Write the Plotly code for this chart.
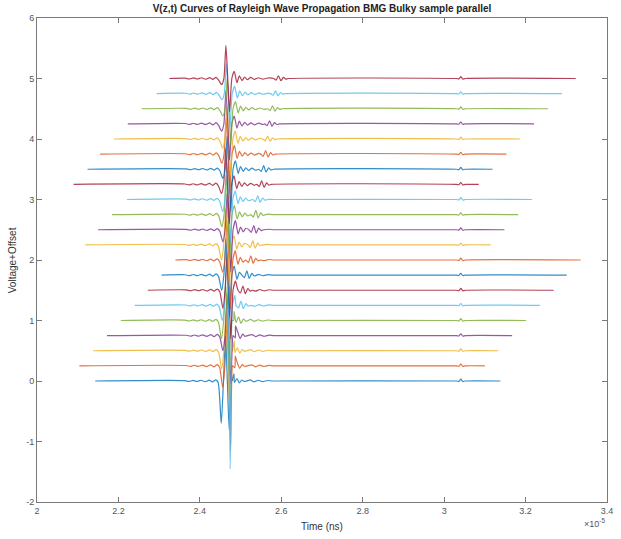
import plotly.graph_objects as go

TIME_UNIT = 1e-5

# one trace per offset (bottom to top)
OFFSETS = [0.0, 0.25, 0.5, 0.75, 1.0, 1.25, 1.5, 1.75, 2.0, 2.25, 2.5,
           2.75, 3.0, 3.25, 3.5, 3.75, 4.0, 4.25, 4.5, 4.75, 5.0]
START_T = [2.143, 2.104, 2.138, 2.172, 2.206, 2.240, 2.272, 2.306, 2.340, 2.119, 2.150,
           2.184, 2.221, 2.090, 2.124, 2.155, 2.189, 2.223, 2.257, 2.294, 2.325]
END_T = [3.138, 3.100, 3.133, 3.167, 3.201, 3.235, 3.269, 3.301, 3.335, 3.114, 3.148,
         3.182, 3.216, 3.085, 3.119, 3.153, 3.187, 3.221, 3.255, 3.289, 3.323]
PULSE_T = [2.4630, 2.4665, 2.4640, 2.4670, 2.4635, 2.4655, 2.4670, 2.4640, 2.4665, 2.4635, 2.4670,
           2.4645, 2.4665, 2.4635, 2.4670, 2.4645, 2.4665, 2.4640, 2.4670, 2.4650, 2.4640]
PRE_DIP = [-0.70, -0.35, -0.30, -0.25, -0.30, -0.25, -0.30, -0.25, -0.20, -0.25, -0.20,
           -0.20, -0.20, -0.15, -0.15, -0.15, -0.15, -0.12, -0.12, -0.10, -0.10]
PEAK = [0.75, 0.70, 0.65, 0.70, 0.60, 0.70, 0.65, 0.60, 0.65, 0.60, 0.60,
        0.65, 0.60, 0.60, 0.55, 0.60, 0.55, 0.55, 0.50, 0.50, 0.55]
TROUGH = [-0.80, -1.40, -0.90, -0.80, -0.90, -2.70, -0.80, -0.70, -0.80, -0.70, -0.70,
          -0.70, -0.70, -0.65, -0.70, -0.65, -0.60, -0.60, -0.60, -0.55, -0.55]
REBOUND = [0.12, 0.16, 0.16, 0.16, 0.15, 0.16, 0.15, 0.15, 0.15, 0.15, 0.15,
           0.15, 0.14, 0.14, 0.14, 0.14, 0.13, 0.13, 0.12, 0.12, 0.12]
ECHO_T = [2.4950, 2.4960, 2.4960, 2.4970, 2.4990, 2.5049, 2.5097, 2.5194, 2.5291, 2.5340, 2.5364,
          2.5413, 2.5461, 2.5558, 2.5607, 2.5655, 2.5704, 2.5752, 2.5825, 2.5898, 2.5971]
ECHO_AMP = [0.04, 0.05, 0.05, 0.06, 0.06, 0.07, 0.07, 0.07, 0.07, 0.07, 0.07,
            0.07, 0.06, 0.06, 0.06, 0.06, 0.05, 0.05, 0.05, 0.045, 0.045]
BLIP_T = 3.041
BLIP_AMP = [0.03, 0.03, 0.03, 0.03, 0.03, 0.03, 0.03, 0.03, 0.03, 0.03, 0.03,
            0.03, 0.03, 0.03, 0.03, 0.03, 0.03, 0.03, 0.03, 0.03, 0.03]

# shared shapes (time relative to the feature, in 1e-5 s)
PRE_RIPPLE_TAU = [-0.100, -0.090, -0.080, -0.070, -0.060, -0.050, -0.040, -0.032, -0.024, -0.018]
PRE_RIPPLE_VAL = [0.006, -0.008, 0.010, -0.008, 0.012, -0.012, 0.015, -0.015, 0.020, -0.025]
RING_TAU = [0.0270, 0.0330, 0.0395, 0.0460, 0.0530, 0.0610, 0.0700, 0.0800, 0.0910, 0.1030, 0.1160]
RING_VAL = [-0.070, 0.045, -0.035, 0.025, -0.020, 0.018, -0.015, 0.012, -0.010, 0.008, 0.0]
ECHO_TAU = [-0.016, -0.010, -0.004, 0.002, 0.008, 0.014, 0.020]
ECHO_SHAPE = [0.0, -0.6, 1.0, -0.8, 0.4, -0.2, 0.0]
BLIP_TAU = [-0.011, -0.005, 0.000, 0.005, 0.011]
BLIP_SHAPE = [0.0, -0.2, 1.0, -0.3, 0.0]

COLORS = ['#0072BD', '#D95319', '#EDB120', '#7E2F8E', '#77AC30', '#4DBEEE', '#A2142F']

fig = go.Figure()
for i, off in enumerate(OFFSETS):
    tc = PULSE_T[i]
    te = ECHO_T[i]
    e_lo, e_hi = te + ECHO_TAU[0], te + ECHO_TAU[-1]
    pts = [(START_T[i], 0.0)]
    pts += [(tc + a, v) for a, v in zip(PRE_RIPPLE_TAU, PRE_RIPPLE_VAL)]
    pts += [(tc - 0.0105, PRE_DIP[i]), (tc - 0.0050, 0.0), (tc, PEAK[i]),
            (tc + 0.0045, 0.0), (tc + 0.0090, TROUGH[i]), (tc + 0.0145, 0.0),
            (tc + 0.0205, REBOUND[i])]
    pts += [(tc + a, v) for a, v in zip(RING_TAU, RING_VAL) if not (e_lo - 0.004 <= tc + a <= e_hi + 0.004)]
    pts += [(te + a, ECHO_AMP[i] * s) for a, s in zip(ECHO_TAU, ECHO_SHAPE)]
    pts += [(BLIP_T + a, BLIP_AMP[i] * s) for a, s in zip(BLIP_TAU, BLIP_SHAPE)]
    pts.append((END_T[i], 0.0))
    pts.sort(key=lambda p: p[0])
    xs = [p[0] * TIME_UNIT for p in pts]
    ys = [off + p[1] for p in pts]
    fig.add_trace(go.Scatter(x=xs, y=ys, mode='lines', opacity=0.8,
                             line=dict(color=COLORS[i % 7], width=1.2, shape='spline', smoothing=0.6),
                             showlegend=False, hoverinfo='skip'))

X_TICKS = [2.0, 2.2, 2.4, 2.6, 2.8, 3.0, 3.2, 3.4]
X_LABELS = ['2', '2.2', '2.4', '2.6', '2.8', '3', '3.2', '3.4']
Y_TICKS = [-2, -1, 0, 1, 2, 3, 4, 5, 6]
Y_LABELS = ['-2', '-1', '0', '1', '2', '3', '4', '5', '6']

axis_common = dict(showline=True, linecolor='#7a7a7a', linewidth=1, mirror='ticks',
                   ticks='inside', ticklen=5, tickcolor='#7a7a7a', showgrid=False,
                   zeroline=False, tickfont=dict(family='Liberation Sans, Arial', size=9, color='#555555'))

fig.update_layout(
    width=621, height=539,
    margin=dict(l=37, r=8, t=18, b=37),
    paper_bgcolor='white', plot_bgcolor='white',
    title=dict(text='<b>V(z,t) Curves of Rayleigh Wave Propagation BMG Bulky sample parallel</b>',
               x=0.5, xref='paper', y=1 - 8 / 539, yref='container', yanchor='middle',
               font=dict(family='Liberation Sans, Arial', size=10, color='#222222')),
    xaxis=dict(range=[2.0 * TIME_UNIT, 3.4 * TIME_UNIT],
               tickvals=[v * TIME_UNIT for v in X_TICKS], ticktext=X_LABELS, **axis_common),
    yaxis=dict(range=[-2, 6], tickvals=Y_TICKS, ticktext=Y_LABELS, **axis_common),
    annotations=[
        dict(text='Time (ns)', xref='paper', yref='paper', x=0.5, y=-24 / 484,
             showarrow=False, yanchor='middle',
             font=dict(family='Liberation Sans, Arial', size=10, color='#333333')),
        dict(text='\u00d710<sup>-5</sup>', xref='paper', yref='paper', x=1.0, y=-21 / 484,
             showarrow=False, xanchor='right', yanchor='middle',
             font=dict(family='Liberation Sans, Arial', size=9, color='#555555')),
        dict(text='Voltage+Offset', xref='paper', yref='paper', x=-25 / 576, y=0.5,
             textangle=-90, showarrow=False, xanchor='center', yanchor='middle',
             font=dict(family='Liberation Sans, Arial', size=10, color='#333333')),
    ],
)

fig.write_html('out.html')
